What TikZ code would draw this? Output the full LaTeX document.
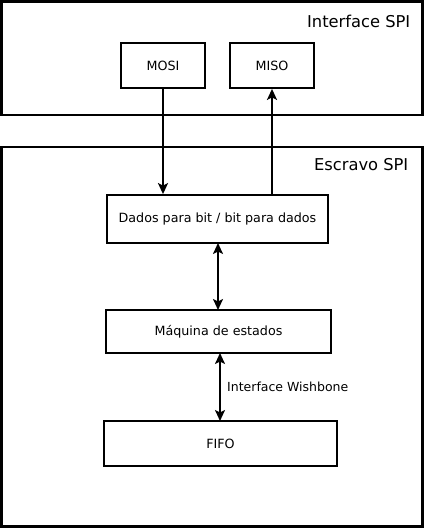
\documentclass[tikz,border=0pt]{standalone}
\usepackage{fontspec}
\setmainfont{DejaVu Sans}
\usetikzlibrary{arrows.meta}
\begin{document}
\begin{tikzpicture}[x=1pt,y=-1pt,
  group/.style={draw,line width=2.2pt},
  blk/.style={draw,line width=1.8pt,inner sep=0pt,font=\fontsize{12.7}{15}\selectfont},
  title/.style={anchor=base east,font=\fontsize{16.3}{19}\selectfont,inner sep=0pt},
  conn/.style={line width=2pt,-{Stealth[length=11pt,width=10pt,inset=2.5pt]}},
  bconn/.style={line width=2pt,{Stealth[length=11pt,width=10pt,inset=2.5pt]}-{Stealth[length=11pt,width=10pt,inset=2.5pt]}}]
\useasboundingbox (0,0) rectangle (424,528);
\fill[white] (0,0) rectangle (424,528);
\draw[group] (1.5,1.5) rectangle (422.5,115);
\draw[group] (1.5,147) rectangle (422.5,526.5);
\node[title] (t1) at (410.5,27.3) {Interface SPI};
\node[title] (t2) at (408.5,170.5) {Escravo SPI};
\node[blk,minimum width=84pt,minimum height=45pt] (mosi) at (163,65.5) {MOSI};
\node[blk,minimum width=84pt,minimum height=45pt] (miso) at (272,65.5) {MISO};
\node[blk,minimum width=221pt,minimum height=48pt] (dados) at (217.5,219) {Dados para bit / bit para dados};
\node[blk,minimum width=225pt,minimum height=43pt] (maq) at (218.5,331.5) {Máquina de estados};
\node[blk,minimum width=233pt,minimum height=45pt] (fifo) at (220.5,443.5) {FIFO};
\draw[conn] (mosi.south) -- (mosi.south |- dados.north);
\draw[conn] (miso.south |- dados.north) -- (miso.south);
\draw[bconn] (218,243) -- (218,310);
\draw[bconn] (220,353) -- (220,421);
\node[anchor=west,inner sep=0pt,font=\fontsize{12.5}{15}\selectfont] (wb) at (227,387) {Interface Wishbone};
\end{tikzpicture}
\end{document}
